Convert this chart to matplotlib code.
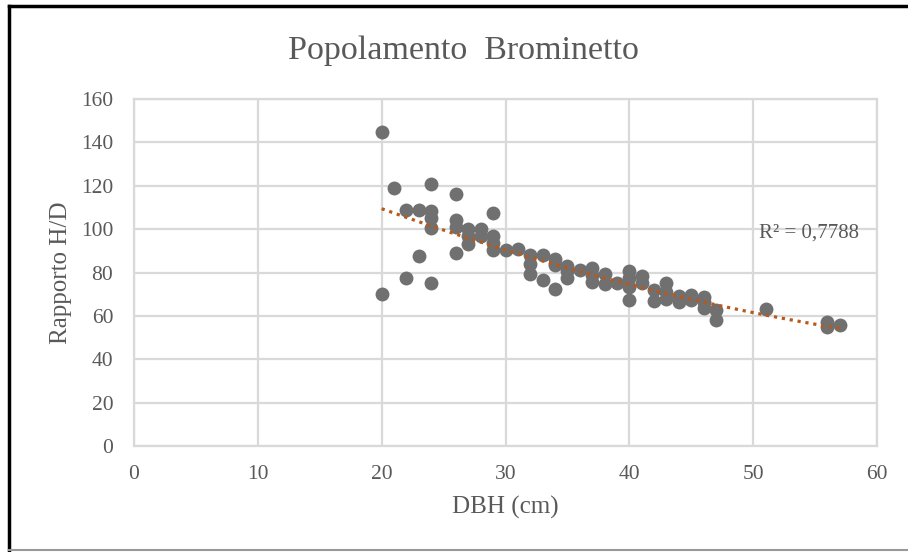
import numpy as np
import matplotlib
matplotlib.use("Agg")
import matplotlib.pyplot as plt
from matplotlib.lines import Line2D

# DBH (cm) and H/D ratio
dbh = [20, 20, 21, 22, 22, 23, 23, 24, 24, 24, 24, 24,
       26, 26, 26, 26, 27, 27, 27, 28, 28, 29, 29, 29, 29,
       30, 31, 32, 32, 32, 33, 33, 34, 34, 34,
       35, 35, 35, 36, 37, 37, 37, 38, 38, 39,
       40, 40, 40, 40, 41, 41, 42, 42, 43, 43, 43,
       44, 44, 45, 45, 46, 46, 46, 47, 47, 51, 56, 56, 57]
hd = [145, 70, 119, 109, 77.5, 109, 87.5, 121, 108.5, 105, 100.5, 75,
      116, 104, 101, 89, 100, 97, 93, 100, 97, 107.5, 97, 93.5, 90.5,
      90.5, 91, 88, 84, 79.5, 88, 76.5, 86, 83.5, 72.5,
      83, 80.5, 77.5, 81, 82, 79, 75.5, 79.5, 74.5, 75,
      80.5, 77.5, 73.5, 67.5, 78.5, 75, 72, 67, 75, 71, 68,
      69, 66.5, 69.5, 67.5, 68.5, 66.5, 63.5, 62.5, 58, 63, 57, 55, 56]
r2_label = "R² = 0,7788"

grey = "#595959"
plt.rcParams["font.family"] = ["Liberation Serif", "DejaVu Serif"]

fig = plt.figure(figsize=(9.08, 5.52), dpi=100)
ax = fig.add_axes([134 / 908, 1 - 446 / 552, (877 - 134) / 908, (446 - 99) / 552])

ax.scatter(dbh, hd, s=100, color="#707070", zorder=3, linewidths=0)

# polynomial trendline (order 2) like Excel
coef = np.polyfit(dbh, hd, 2)
xt = np.linspace(min(dbh), max(dbh), 200)
ax.plot(xt, np.polyval(coef, xt), color="#b8591c", lw=2.3,
        linestyle=(0, (1, 1.5)), zorder=4)
ax.text(50.5, 98, r2_label, fontsize=15, color=grey, va="center")

ax.set_xlim(0, 60)
ax.set_ylim(0, 160)
ax.set_xticks(range(0, 61, 10))
ax.set_yticks(range(0, 161, 20))
ax.grid(True, color="#d9d9d9", lw=1.6)
ax.set_axisbelow(True)
for s in ax.spines.values():
    s.set_color("#d9d9d9")
    s.set_linewidth(1.6)
ax.tick_params(length=0, colors=grey, labelsize=15.5, pad=14)
ax.tick_params(axis="y", pad=15)

ax.set_xlabel("DBH (cm)", fontsize=18, color=grey, labelpad=8)
ax.set_ylabel("Rapporto H/D", fontsize=18, color=grey, labelpad=6)
fig.text(463 / 908, 1 - 51 / 552, "Popolamento  Brominetto", fontsize=24.5,
         color=grey, ha="center", va="center")

# outer frame of the picture
fig.add_artist(Line2D([9 / 908, 9 / 908], [1 - 6 / 552, 1 - 550 / 552], color="black", lw=2.5))
fig.add_artist(Line2D([9 / 908, 1], [1 - 6 / 552, 1 - 6 / 552], color="black", lw=2.5))
fig.add_artist(Line2D([9 / 908, 1], [1 - 550 / 552, 1 - 550 / 552], color="#999999", lw=1.5))

fig.savefig("out.png", dpi=100)
